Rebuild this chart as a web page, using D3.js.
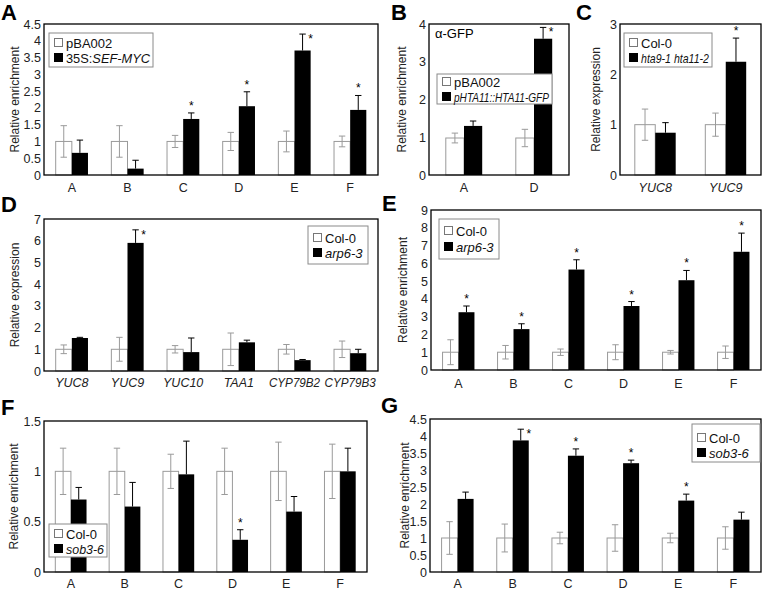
<!DOCTYPE html>
<html><head><meta charset="utf-8">
<script src="https://cdn.jsdelivr.net/npm/d3@7"></script>
<style>body{margin:0;background:#fff}svg{display:block;font-family:"Liberation Sans",Arial,sans-serif}</style>
</head><body><svg id="c" width="762" height="590"></svg>
<script>
// ---------- DATA ----------
const catsAF = ["A","B","C","D","E","F"];
// Panel A
const aCol = [1,1,1,1,1,1];
const aColErr = [0.47,0.47,0.18,0.27,0.31,0.16];
const aMut = [0.66,0.19,1.67,2.05,3.71,1.94];
const aMutErr = [0.38,0.25,0.18,0.43,0.49,0.43];
const aStar = [0,0,1,1,1,1];
const aTicks = [0,0.5,1,1.5,2,2.5,3,3.5,4,4.5];
// Panel B
const bCats = ["A","D"];
const bCol = [0.98,0.98];
const bColErr = [0.13,0.23];
const bMut = [1.30,3.61];
const bMutErr = [0.13,0.30];
const bStar = [0,1];
const bTicks = [0,1,2,3,4];
// Panel C
const cCats = ["YUC8","YUC9"];
const cCol = [1,1];
const cColErr = [0.31,0.23];
const cMut = [0.84,2.25];
const cMutErr = [0.2,0.47];
const cStar = [0,1];
const cTicks = [0,1,2,3];
// Panel D
const dCats = ["YUC8","YUC9","YUC10","TAA1","CYP79B2","CYP79B3"];
const dCol = [1,1,1,1,1,1];
const dColErr = [0.2,0.55,0.17,0.75,0.22,0.38];
const dMut = [1.52,5.9,0.87,1.32,0.5,0.82];
const dMutErr = [0.03,0.6,0.65,0.1,0.03,0.18];
const dStar = [0,1,0,0,0,0];
const dTicks = [0,1,2,3,4,5,6,7];
// Panel E
const eCol = [1,1,1,1,1,1];
const eColErr = [0.7,0.38,0.18,0.42,0.1,0.35];
const eMut = [3.25,2.3,5.65,3.6,5.05,6.65];
const eMutErr = [0.35,0.3,0.55,0.25,0.55,1.05];
const eStar = [1,1,1,1,1,1];
const eTicks = [0,1,2,3,4,5,6,7,8,9];
// Panel F
const fCol = [1,1,1,1,1,1];
const fColErr = [0.23,0.23,0.17,0.23,0.29,0.27];
const fMut = [0.72,0.65,0.97,0.32,0.60,1.0];
const fMutErr = [0.12,0.24,0.33,0.10,0.15,0.23];
const fStar = [0,0,0,1,0,0];
const fTicks = [0,0.5,1,1.5];
// Panel G
const gCol = [1,1,1,1,1,1];
const gColErr = [0.48,0.41,0.17,0.39,0.14,0.33];
const gMut = [2.15,3.87,3.42,3.2,2.1,1.54];
const gMutErr = [0.2,0.33,0.2,0.09,0.19,0.22];
const gStar = [0,1,1,1,1,0];
const gTicks = [0,0.5,1,1.5,2,2.5,3,3.5,4,4.5];

// ---------- DRAW ----------
const svg = d3.select("#c");
const GREY = "#9a9a9a";
const FONT = "Liberation Sans, Arial, sans-serif";

function fit(sel, maxW) {
  sel.each(function() {
    const w = this.getComputedTextLength();
    if (w > maxW) d3.select(this).attr("textLength", maxW).attr("lengthAdjust", "spacingAndGlyphs");
  });
}

function panel(o) {
  const g = svg.append("g");
  const x = d3.scaleBand().domain(o.cats).range([o.x0, o.x1]);
  const y = d3.scaleLinear().domain([0, o.ymax]).range([o.y1, o.y0]);
  const bw = x.bandwidth() * (o.bwFrac || 0.29);
  const rows = o.cats.map((c, i) => ({c, i, col: o.col[i], colErr: o.colErr[i], mut: o.mut[i], mutErr: o.mutErr[i], star: o.star[i]}));

  // y tick labels
  const ax = d3.axisLeft(y).tickValues(o.ticks).tickSize(0).tickPadding(3).tickFormat(d => String(d));
  const ag = g.append("g").attr("transform", `translate(${o.x0},0)`).call(ax);
  ag.select(".domain").remove();
  ag.selectAll("text").attr("font-size", 12.5).attr("fill", "#222").attr("font-family", FONT);

  // category labels
  const bx = d3.axisBottom(x).tickSize(0).tickPadding(0);
  const bg = g.append("g").attr("transform", `translate(0,${o.catY})`).call(bx);
  bg.select(".domain").remove();
  bg.selectAll("text").attr("font-size", 12.5).attr("fill", "#222").attr("dy", 0)
    .attr("font-style", o.catItalic ? "italic" : "normal").attr("font-family", FONT);
  fit(bg.selectAll("text"), x.bandwidth() * 0.92);

  // white bars
  g.selectAll(".wb").data(rows).join("rect")
    .attr("x", d => x(d.c) + x.bandwidth()/2 - bw).attr("width", bw)
    .attr("y", d => y(d.col)).attr("height", d => y(0) - y(d.col))
    .attr("fill", "#fff").attr("stroke", GREY).attr("stroke-width", 1);
  // black bars
  g.selectAll(".bb").data(rows).join("rect")
    .attr("x", d => x(d.c) + x.bandwidth()/2).attr("width", bw)
    .attr("y", d => y(d.mut)).attr("height", d => y(0) - y(d.mut))
    .attr("fill", "#000");
  // error bars & stars
  const cap = 3.2;
  rows.forEach(d => {
    const cx = x(d.c) + x.bandwidth()/2 - bw/2;
    const t = y(d.col + d.colErr), b = y(Math.max(0, d.col - d.colErr));
    g.append("line").attr("x1", cx).attr("x2", cx).attr("y1", t).attr("y2", b).attr("stroke", GREY).attr("stroke-width", 1);
    g.append("line").attr("x1", cx-cap).attr("x2", cx+cap).attr("y1", t).attr("y2", t).attr("stroke", GREY).attr("stroke-width", 1);
    g.append("line").attr("x1", cx-cap).attr("x2", cx+cap).attr("y1", b).attr("y2", b).attr("stroke", GREY).attr("stroke-width", 1);
    const mx = x(d.c) + x.bandwidth()/2 + bw/2;
    const mt = y(d.mut + d.mutErr);
    g.append("line").attr("x1", mx).attr("x2", mx).attr("y1", mt).attr("y2", y(d.mut)).attr("stroke", "#000").attr("stroke-width", 1);
    g.append("line").attr("x1", mx-cap).attr("x2", mx+cap).attr("y1", mt).attr("y2", mt).attr("stroke", "#000").attr("stroke-width", 1);
    if (d.star) {
      const near = mt - o.y0 < 14;
      g.append("text").attr("x", near ? mx + 8 : mx).attr("y", near ? mt + 9 : mt - 3)
        .attr("text-anchor", "middle").attr("font-size", 12).text("*");
    }
  });

  // frame
  g.append("rect").attr("x", o.x0).attr("y", o.y0).attr("width", o.x1 - o.x0).attr("height", o.y1 - o.y0)
    .attr("fill", "none").attr("stroke", "#000").attr("stroke-width", 1.3);

  // y title
  g.append("text").attr("transform", `translate(${o.titleX},${(o.y0 + o.y1)/2}) rotate(-90)`)
    .attr("text-anchor", "middle").attr("dy", "0.35em").attr("font-size", 12).attr("fill", "#222").text(o.ytitle);
  // panel letter
  g.append("text").attr("x", o.letterX).attr("y", o.letterY).attr("font-size", 22).attr("font-weight", "bold").text(o.letter);

  // legend
  const L = o.legend;
  g.append("rect").attr("x", L.x).attr("y", L.y).attr("width", L.w).attr("height", L.h)
    .attr("fill", "#fff").attr("stroke", "#8a8a8a").attr("stroke-width", 1);
  L.rows.forEach((ry, k) => {
    g.append("rect").attr("x", L.x + 5.5).attr("y", ry - 4.5).attr("width", 8).attr("height", 8)
      .attr("fill", k ? "#000" : "#fff").attr("stroke", k ? "#000" : "#777").attr("stroke-width", 1);
    const t = g.append("text").attr("x", L.x + 17).attr("y", ry).attr("dy", "0.35em").attr("font-size", 13).attr("fill", "#111");
    L.labels[k].forEach(seg => t.append("tspan").attr("font-style", seg[1] ? "italic" : "normal").text(seg[0]));
    fit(t, L.w - 20);
  });
  if (o.note) g.append("text").attr("x", o.note.x).attr("y", o.note.y).attr("font-size", 13).text(o.note.t);
}

panel({cats: catsAF, col: aCol, colErr: aColErr, mut: aMut, mutErr: aMutErr, star: aStar, ticks: aTicks, ymax: 4.5,
  x0: 44, x1: 378, y0: 24, y1: 175, catY: 192, ytitle: "Relative enrichment", titleX: 15, letter: "A", letterX: 1, letterY: 20,
  legend: {x: 49, y: 33, w: 104, h: 34, rows: [43, 58], labels: [[["pBA002", false]], [["35S:", false], ["SEF-MYC", true]]]}});
panel({cats: bCats, col: bCol, colErr: bColErr, mut: bMut, mutErr: bMutErr, star: bStar, ticks: bTicks, ymax: 4,
  x0: 429, x1: 569, y0: 24, y1: 175, catY: 192, ytitle: "Relative enrichment", titleX: 402, letter: "B", letterX: 391, letterY: 20, bwFrac: 0.26,
  legend: {x: 437, y: 74, w: 115, h: 30, rows: [82, 97], labels: [[["pBA002", false]], [["pHTA11::HTA11-GFP", true]]]},
  note: {x: 435, y: 38, t: "α-GFP"}});
panel({cats: cCats, col: cCol, colErr: cColErr, mut: cMut, mutErr: cMutErr, star: cStar, ticks: cTicks, ymax: 3,
  x0: 620, x1: 761, y0: 24, y1: 175, catY: 192, catItalic: true, ytitle: "Relative expression", titleX: 596, letter: "C", letterX: 576, letterY: 20,
  legend: {x: 624, y: 33, w: 88, h: 34, rows: [43, 58], labels: [[["Col-0", false]], [["hta9-1 hta11-2", true]]]}});
panel({cats: dCats, col: dCol, colErr: dColErr, mut: dMut, mutErr: dMutErr, star: dStar, ticks: dTicks, ymax: 7,
  x0: 44, x1: 378, y0: 219, y1: 371, catY: 387, catItalic: true, ytitle: "Relative expression", titleX: 15, letter: "D", letterX: 1, letterY: 212,
  legend: {x: 308, y: 226, w: 60, h: 38, rows: [238, 253], labels: [[["Col-0", false]], [["arp6-3", true]]]}});
panel({cats: catsAF, col: eCol, colErr: eColErr, mut: eMut, mutErr: eMutErr, star: eStar, ticks: eTicks, ymax: 9,
  x0: 431, x1: 761, y0: 210, y1: 370, catY: 388, ytitle: "Relative enrichment", titleX: 403, letter: "E", letterX: 382, letterY: 211,
  legend: {x: 439, y: 219, w: 60, h: 40, rows: [231, 247], labels: [[["Col-0", false]], [["arp6-3", true]]]}});
panel({cats: catsAF, col: fCol, colErr: fColErr, mut: fMut, mutErr: fMutErr, star: fStar, ticks: fTicks, ymax: 1.5,
  x0: 44, x1: 367, y0: 421, y1: 572, catY: 588, ytitle: "Relative enrichment", titleX: 14, letter: "F", letterX: 1, letterY: 415,
  legend: {x: 49, y: 524, w: 58, h: 33, rows: [534, 549], labels: [[["Col-0", false]], [["sob3-6", true]]]}});
panel({cats: catsAF, col: gCol, colErr: gColErr, mut: gMut, mutErr: gMutErr, star: gStar, ticks: gTicks, ymax: 4.5,
  x0: 430, x1: 761, y0: 419, y1: 572, catY: 588, ytitle: "Relative enrichment", titleX: 405, letter: "G", letterX: 381, letterY: 413,
  legend: {x: 692, y: 424, w: 68, h: 38, rows: [438, 453], labels: [[["Col-0", false]], [["sob3-6", true]]]}});
</script></body></html>
